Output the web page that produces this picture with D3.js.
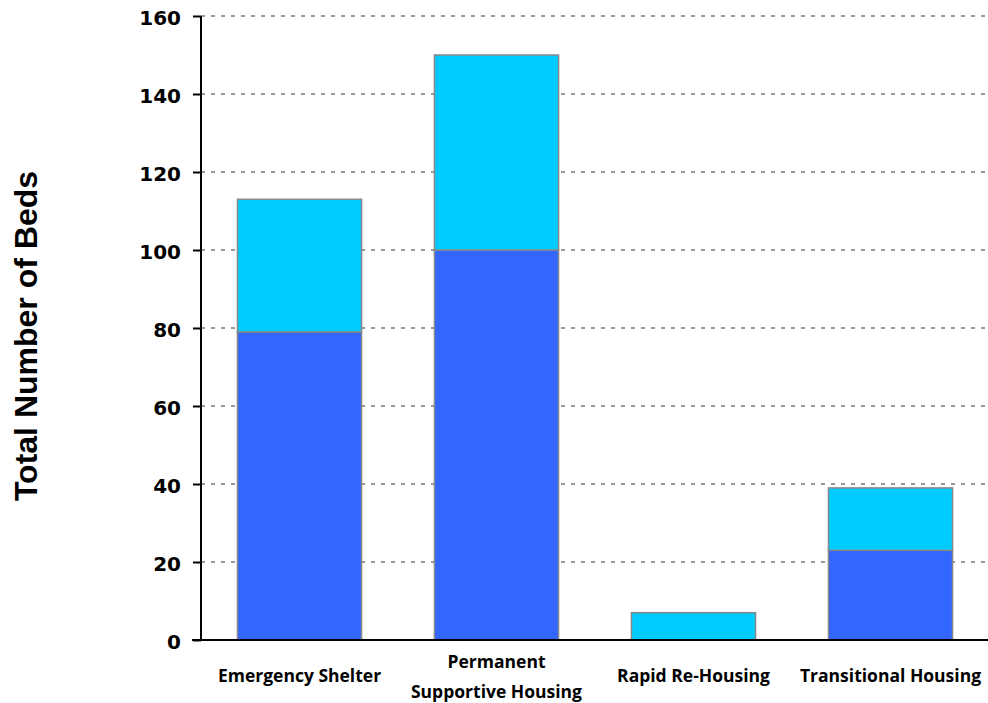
<!DOCTYPE html>
<html>
<head>
<meta charset="utf-8">
<script src="https://cdn.jsdelivr.net/npm/d3@7"></script>
<style>
  body { margin: 0; background: #fff; }
</style>
</head>
<body>
<div id="chart"></div>
<script>
const categories = [["Emergency Shelter"], ["Permanent", "Supportive Housing"], ["Rapid Re-Housing"], ["Transitional Housing"]];
const lowerBeds = [79, 100, 0, 23];
const upperBeds = [34, 50, 7, 16];
const yTicks = [0, 20, 40, 60, 80, 100, 120, 140, 160];

const width = 988, height = 703;
const plotLeft = 201, plotRight = 989, plotTop = 16, plotBottom = 640;

const svg = d3.select("#chart")
  .append("svg")
    .attr("width", width)
    .attr("height", height);

const x = d3.scaleBand()
  .domain(d3.range(categories.length))
  .range([plotLeft, plotRight])
  .paddingInner(0.37)
  .paddingOuter(0.185);

const y = d3.scaleLinear()
  .domain([0, 160])
  .range([plotBottom, plotTop]);

// grid
svg.append("g")
  .selectAll("line")
  .data(yTicks.filter(d => d > 0))
  .join("line")
    .attr("x1", plotLeft)
    .attr("x2", 986)
    .attr("y1", d => y(d))
    .attr("y2", d => y(d))
    .attr("stroke", "#999")
    .attr("stroke-width", 2)
    .attr("stroke-dasharray", "4,6");

// stacked bars
const stacked = categories.map((c, i) => ({i: i, lo: lowerBeds[i], hi: upperBeds[i]}));

svg.append("g")
  .selectAll("rect")
  .data(stacked.filter(d => d.lo > 0))
  .join("rect")
    .attr("x", d => x(d.i))
    .attr("width", x.bandwidth())
    .attr("y", d => y(d.lo))
    .attr("height", d => y(0) - y(d.lo))
    .attr("fill", "#3366ff")
    .attr("stroke", "#888")
    .attr("stroke-width", 1.5);

svg.append("g")
  .selectAll("rect")
  .data(stacked)
  .join("rect")
    .attr("x", d => x(d.i))
    .attr("width", x.bandwidth())
    .attr("y", d => y(d.lo + d.hi))
    .attr("height", d => y(d.lo) - y(d.lo + d.hi))
    .attr("fill", "#00ccff")
    .attr("stroke", "#888")
    .attr("stroke-width", 1.5);

// y axis
const yAxis = svg.append("g")
  .attr("transform", `translate(${plotLeft},0)`)
  .call(d3.axisLeft(y).tickValues(yTicks).tickSize(8).tickPadding(12));
yAxis.select(".domain").attr("stroke", "#000").attr("stroke-width", 2).attr("d", `M0,${plotTop}V${plotBottom}`);
yAxis.selectAll(".tick line").attr("stroke", "#000").attr("stroke-width", 2);
yAxis.selectAll(".tick text")
  .attr("font-family", "DejaVu Sans")
  .attr("font-weight", "bold")
  .attr("font-size", 20)
  .attr("dy", "0.4em")
  .attr("fill", "#000");

// x axis line
svg.append("line")
  .attr("x1", 192)
  .attr("x2", 988)
  .attr("y1", plotBottom)
  .attr("y2", plotBottom)
  .attr("stroke", "#000")
  .attr("stroke-width", 2);

// category labels
const labels = svg.append("g")
  .selectAll("text")
  .data(categories)
  .join("text")
    .attr("x", (d, i) => x(i) + x.bandwidth() / 2)
    .attr("text-anchor", "middle")
    .attr("font-family", "Open Sans")
    .attr("font-weight", "bold")
    .attr("font-size", 17.5)
    .attr("fill", "#000");

labels.selectAll("tspan")
  .data(d => d.map((t, k) => ({t: t, k: k, n: d.length})))
  .join("tspan")
    .attr("x", function() { return this.parentNode.getAttribute("x"); })
    .attr("y", d => d.n === 1 ? 682 : 668 + d.k * 30)
    .text(d => d.t);

// y title
svg.append("text")
  .attr("transform", `translate(37,336) rotate(-90)`)
  .attr("text-anchor", "middle")
  .attr("font-family", "Liberation Sans")
  .attr("font-weight", "bold")
  .attr("font-size", 32)
  .attr("fill", "#000")
  .text("Total Number of Beds");
</script>
</body>
</html>
